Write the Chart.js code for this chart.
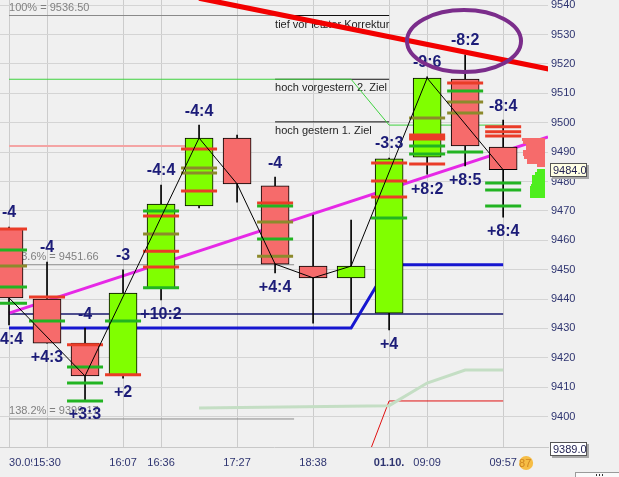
<!DOCTYPE html>
<html><head><meta charset="utf-8">
<script src="https://cdn.jsdelivr.net/npm/chart.js@4.4.0/dist/chart.umd.min.js"></script>
<style>html,body{margin:0;padding:0;background:#f0f0f0;overflow:hidden}canvas{display:block}</style>
</head><body>
<canvas id="c" width="619" height="477"></canvas>
<script>
const FONT = '"Liberation Sans", Arial, sans-serif';

// ---- axis labels ----
const tickIndex  = [0, 1, 3, 4, 6, 8, 10, 11, 13];
const tickLabels = ['30.09.', '15:30', '16:07', '16:36', '17:27', '18:38', '01.10.', '09:09', '09:57'];
const priceTicks = [9400, 9410, 9420, 9430, 9440, 9450, 9460, 9470, 9480, 9490, 9500, 9510, 9520, 9530, 9540];

// ---- candles ----
const opens  = [9463.8, 9440.0, 9425.0, 9414.2, 9443.8, 9471.7, 9494.8, 9478.5, 9451.2, 9447.2, 9435.2, 9488.3, 9514.9, 9491.7];
const highs  = [9464.5, 9452.6, 9430.1, 9449.9, 9478.8, 9499.2, 9495.8, 9481.5, 9468.6, 9466.9, 9488.0, 9515.6, 9523.1, 9500.9];
const lows   = [9431.2, 9425.0, 9405.6, 9413.1, 9439.7, 9471.0, 9473.0, 9448.9, 9431.8, 9434.9, 9429.5, 9482.5, 9485.3, 9467.9];
const closes = [9440.4, 9425.0, 9413.8, 9442.0, 9472.3, 9494.8, 9479.2, 9451.9, 9447.2, 9451.2, 9487.7, 9515.2, 9492.1, 9484.0];
const topLabels    = ['-4', '-4', '-4', '-3', '-4:4', '-4:4', '', '-4', '', '', '-3:3', '-9:6', '-8:2', '-8:4'];
const bottomLabels = ['-4:4', '+4:3', '+3:3', '+2', '+10:2', '', '', '+4:4', '', '', '+4', '+8:2', '+8:5', '+8:4'];

// ---- order level markers on candles ----
const markerCandle = [0,0,0,0,0, 1,1, 2,2,2,2, 3,3, 4,4,4,4,4,4, 5,5,5,5, 7,7,7,7,7, 10,10,10,10, 11,11,11,11,11,11,11, 12,12,12,12,12, 13,13,13,13,13,13];
const markerPrice = [9463.8, 9456.7, 9451.2, 9444.1, 9438.6,
  9440.7, 9432.5,
  9424.4, 9416.9, 9411.4, 9405.3,
  9432.5, 9414.2,
  9470.0, 9468.3, 9462.1, 9456.3, 9450.9, 9443.8,
  9491.1, 9484.6, 9482.9, 9476.8,
  9472.7, 9471.7, 9466.2, 9460.4, 9454.6,
  9486.3, 9480.2, 9474.7, 9467.6,
  9501.6, 9495.8, 9495.1, 9494.5, 9492.1, 9489.4, 9486.0,
  9513.5, 9510.8, 9507.1, 9503.3, 9490.0,
  9498.6, 9496.9, 9495.5, 9479.5, 9477.1, 9471.7];
const markerKind = ('rgogg' + 'rg' + 'rggg' + 'gr' + 'grorrg' + 'roor' + 'rgogo' + 'rrrg' + 'orrrggr' + 'rgoog' + 'rrrggg').split('');

// ---- zigzag on closes ----
const zigzagIdx = [0, 2, 5, 6, 7, 8, 9, 11, 13];

// ---- levels / trend lines ([index, price]) ----
const fibLevels = [9536.5, 9451.66, 9399.17];
const fibTexts  = ['100% = 9536.50', '123.6% = 9451.66', '138.2% = 9399.17'];
const fibEnd    = [7, 7.5, 7.5];
const noteLevels = [9536.5, 9514.8, 9500.3];
const noteTexts  = ['tief vor letzter Korrektur', 'hoch vorgestern 2. Ziel', 'hoch gestern 1. Ziel'];
const targetLine  = [[0, 9514.8], [9, 9514.8], [10, 9499.2], [13, 9499.2]];
const salmonLine  = [[0, 9492.1], [5, 9492.1]];
const magentaLine = [[0, 9435.2], [14.18, 9495.2]];
const blueLine    = [[0, 9430.1], [9, 9430.1], [10, 9451.66], [13, 9451.66]];
const navyLine    = [[0, 9434.9], [13, 9434.9]];
const paleLine    = [[5, 9402.9], [10, 9403.7], [11, 9411.4], [12, 9415.8], [13, 9415.8]];
const thinRedLine = [[9.5, 9388.4], [10, 9405.3], [13, 9405.3]];
const trendRed    = [[5, 9542.4], [14.2, 9518.3]];
const highlightCenter = [11.97, 9527.8];
const highlightRadius = [1.5, 10.55];

// ---- volume profile ----
const profileRedPrice   = [9494.3, 9493.3, 9492.3, 9491.3, 9490.3, 9489.3, 9488.3, 9487.3, 9486.3, 9485.3];
const profileRedVol     = [23, 22, 19, 19, 22, 22, 21, 18, 18, 8];
const profileGreenPrice = [9483.8, 9482.8, 9481.8, 9480.8, 9479.8, 9478.8, 9477.8, 9476.8, 9475.8, 9474.8];
const profileGreenVol   = [8, 10, 13, 13, 13, 14, 15, 15, 15, 15];

// ---- value boxes ----
const boxValues = [9484.0, 9389.0];
const boxTexts  = ['9484.0', '9389.0'];

const GREEN = '#80ff00', RED = '#f66b6b';
const MARK = { r: '#ea3c28', g: '#22b422', o: '#8c8a2c' };

const seg = (pts, color, w, order) => ({
  type: 'line', data: pts.map(p => ({ x: p[0], y: p[1] })), borderColor: color, borderWidth: w,
  pointRadius: 0, fill: false, tension: 0, order
});

const datasets = [
  seg(trendRed, '#f20000', 5, 0),
  seg(zigzagIdx.map(i => [i, closes[i]]), '#000000', 1, 1),
  {
    type: 'line', showLine: false, order: 2,
    data: markerPrice.map((p, i) => ({ x: markerCandle[i], y: p })),
    pointStyle: 'line', pointRadius: 18, pointBorderWidth: 3,
    pointBorderColor: markerKind.map(k => MARK[k]), pointBackgroundColor: markerKind.map(k => MARK[k])
  },
  {
    type: 'bar', order: 3, grouped: false, barThickness: 28,
    data: opens.map((o, i) => ({ x: i, y: [o, closes[i]] })),
    backgroundColor: opens.map((o, i) => closes[i] >= o ? GREEN : RED),
    borderColor: '#000', borderWidth: 1, borderSkipped: false
  },
  {
    type: 'bar', order: 4, grouped: false, barThickness: 1,
    data: lows.map((l, i) => ({ x: i, y: [l, highs[i]] })),
    backgroundColor: '#000', borderWidth: 0
  },
  seg(magentaLine, '#e628e6', 3, 5),
  seg(blueLine, '#1616d0', 3, 6),
  seg(navyLine, '#18186e', 1.5, 7),
  seg(targetLine, '#3fd23f', 1, 8),
  seg(salmonLine, '#f4a4a4', 2, 9),
  seg(paleLine, '#c4dec4', 3, 10),
  seg(thinRedLine, '#e01010', 1, 11),
  ...noteLevels.map((v, i) => seg([[7, v], [10, v]], '#111111', 1, 13)),
  ...fibLevels.map((v, i) => seg([[0, v], [fibEnd[i], v]], '#8a8a8a', 1, 14))
];

const overlay = {
  id: 'overlay',
  beforeDatasetsDraw(chart) {
    const { ctx, scales: { x, y } } = chart;
    ctx.save();
    ctx.font = '11px ' + FONT;
    ctx.textAlign = 'left'; ctx.textBaseline = 'middle';
    ctx.fillStyle = '#808080';
    fibLevels.forEach((v, i) => ctx.fillText(fibTexts[i], x.getPixelForValue(0), y.getPixelForValue(v) - 8));
    ctx.fillStyle = '#1e1e1e';
    noteLevels.forEach((v, i) => ctx.fillText(noteTexts[i], x.getPixelForValue(7), y.getPixelForValue(v) + 9));
    ctx.restore();
  },
  afterDatasetsDraw(chart) {
    const { ctx, scales: { x, y }, chartArea } = chart;
    ctx.save();
    // volume profile
    const right = Math.round(chartArea.right - 3);
    const bar = (prices, vols, color) => {
      ctx.fillStyle = color;
      prices.forEach((p, i) => {
        const y1 = Math.round(y.getPixelForValue(p + 0.5)), y2 = Math.round(y.getPixelForValue(p - 0.5));
        ctx.fillRect(right - vols[i], y1, vols[i], y2 - y1);
      });
    };
    bar(profileRedPrice, profileRedVol, RED);
    bar(profileGreenPrice, profileGreenVol, '#4eee1e');
    // candle labels
    ctx.font = 'bold 16px ' + FONT;
    ctx.fillStyle = '#1c1c78';
    ctx.textAlign = 'center'; ctx.textBaseline = 'middle';
    opens.forEach((o, i) => {
      const px = x.getPixelForValue(i);
      if (topLabels[i]) ctx.fillText(topLabels[i], px, y.getPixelForValue(highs[i]) - 14);
      if (bottomLabels[i]) ctx.fillText(bottomLabels[i], px, y.getPixelForValue(lows[i]) + 15);
    });
    // highlight ellipse
    const cx = x.getPixelForValue(highlightCenter[0]), cy = y.getPixelForValue(highlightCenter[1]);
    const rx = x.getPixelForValue(highlightCenter[0] + highlightRadius[0]) - cx;
    const ry = y.getPixelForValue(highlightCenter[1] - highlightRadius[1]) - cy;
    ctx.beginPath(); ctx.ellipse(cx, cy, rx, ry, 0, 0, 2 * Math.PI);
    ctx.lineWidth = 4; ctx.strokeStyle = '#7b2d8b'; ctx.stroke();
    ctx.restore();
  },
  afterDraw(chart) {
    const { ctx, scales: { x, y }, chartArea } = chart;
    ctx.save();
    ctx.font = '11px ' + FONT;
    ctx.textAlign = 'left'; ctx.textBaseline = 'middle';
    boxValues.forEach((v, i) => {
      const cy = Math.round(y.getPixelForValue(v));
      const bx = chartArea.right + 2, by = cy - 7, bw = 37, bh = 14;
      ctx.fillStyle = '#a8a8a8'; ctx.fillRect(bx + 2, by + 2, bw, bh);
      ctx.fillStyle = i === 0 ? '#ffffe4' : '#ffffff'; ctx.fillRect(bx, by, bw, bh);
      ctx.strokeStyle = '#555'; ctx.lineWidth = 1; ctx.strokeRect(bx + 0.5, by + 0.5, bw - 1, bh - 1);
      ctx.fillStyle = '#1e1e50'; ctx.fillText(boxTexts[i], bx + 3, cy + 0.5);
    });
    // badge
    const bxp = x.getPixelForValue(13) + 23, byp = 463;
    ctx.beginPath(); ctx.arc(bxp, byp, 7, 0, 2 * Math.PI); ctx.fillStyle = '#f6bd45'; ctx.fill();
    ctx.fillStyle = '#cf8620'; ctx.textAlign = 'center'; ctx.fillText('87', bxp - 1, byp + 0.5);
    // corner widget
    ctx.fillStyle = '#fafafa'; ctx.fillRect(575, 472, 44, 6);
    ctx.strokeStyle = '#9a9a9a'; ctx.strokeRect(575.5, 472.5, 44, 6);
    ctx.fillStyle = '#333'; [596, 599, 602].forEach(d => ctx.fillRect(d, 474, 1, 2));
    ctx.restore();
  }
};

new Chart(document.getElementById('c'), {
  type: 'bar',
  data: { datasets },
  options: {
    responsive: false, animation: false, events: [],
    layout: { padding: 0, autoPadding: false },
    plugins: { legend: { display: false }, tooltip: { enabled: false } },
    scales: {
      x: {
        type: 'linear', min: -0.237, max: 14.18, offset: false, position: 'bottom',
        afterBuildTicks: s => { s.ticks = [...tickIndex, s.max].map(v => ({ value: v })); },
        afterFit: s => { s.height = 30; s.paddingLeft = 0; s.paddingRight = 0; },
        ticks: {
          autoSkip: false, maxRotation: 0, minRotation: 0, align: 'inner', padding: 9,
          color: '#2e3470',
          font: c => ({ family: FONT, size: 11, weight: (c.tick && c.tick.value === 10) ? 'bold' : 'normal' }),
          callback: v => { const k = tickIndex.indexOf(v); return k >= 0 ? tickLabels[k] : ''; },
          showLabelBackdrop: true, backdropColor: '#f0f0f0',
          backdropPadding: { top: 0, bottom: 0, left: 1, right: 1 }
        },
        grid: {
          offset: false, drawTicks: false,
          color: c => (c.tick && tickIndex.indexOf(c.tick.value) < 0) ? 'rgba(0,0,0,0)' : '#cccccc'
        },
        border: { display: true, color: '#c8c8c8' }
      },
      y: {
        type: 'linear', position: 'right', min: 9389.63, max: 9541.78,
        afterBuildTicks: s => { s.ticks = priceTicks.map(v => ({ value: v })); },
        afterFit: s => { s.width = 71; s.paddingTop = 0; s.paddingBottom = 0; },
        ticks: { color: '#2e3470', font: { family: FONT, size: 11 }, padding: 3, callback: v => String(v) },
        grid: { color: '#d4d4d4', drawTicks: false },
        border: { display: false }
      }
    }
  },
  plugins: [overlay]
});
</script>
</body></html>
